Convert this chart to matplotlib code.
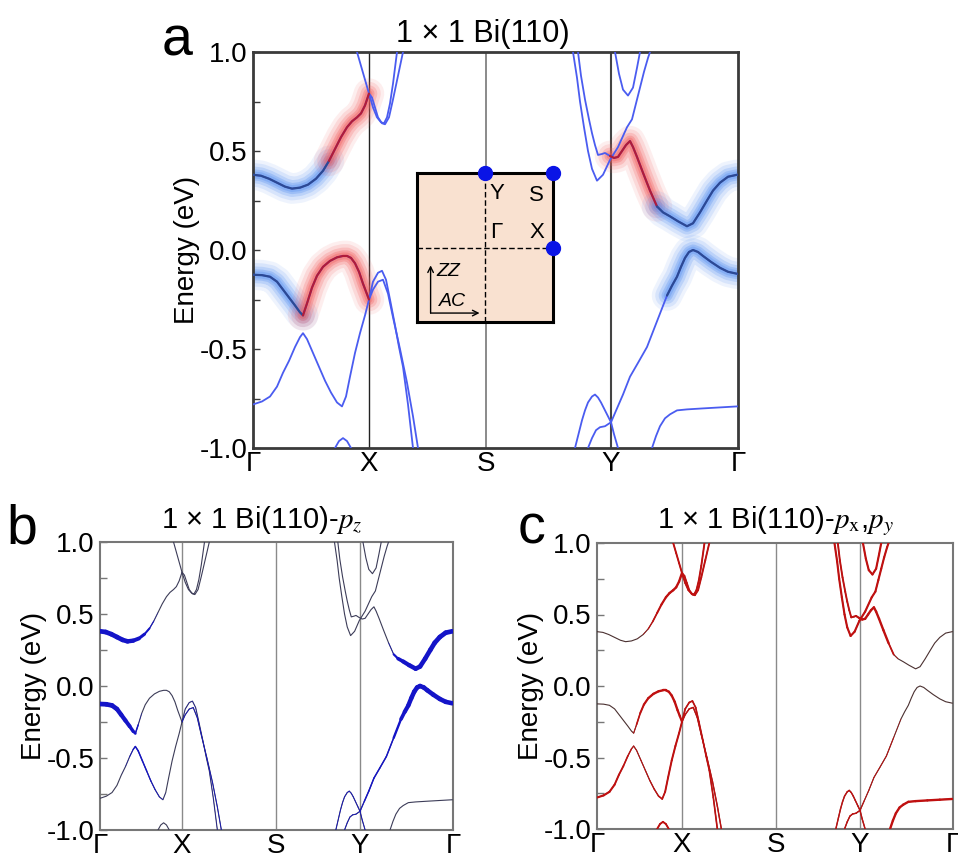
import numpy as np
import matplotlib
matplotlib.use('Agg')
import matplotlib.pyplot as plt
from matplotlib.collections import LineCollection
from matplotlib.ticker import MultipleLocator

plt.rcParams['font.family'] = ['Liberation Sans', 'DejaVu Sans']
plt.rcParams['mathtext.fontset'] = 'stix'
plt.rcParams['axes.unicode_minus'] = False

# ---------------- data ----------------
kpath_labels = ['Γ', 'X', 'S', 'Y', 'Γ']
kpath_a = [0, 116, 233, 358, 485]
kpath_b = [0, 82, 176, 260, 353]
kpath_c = [0, 85, 179, 263, 356]
energy_ticks = [-1.0, -0.5, 0.0, 0.5, 1.0]

# bands (k in panel-a path units, E in eV, pz = p_z weight)
ss_up_left_k = [0, 8, 16, 24, 32, 39, 47, 55, 63, 70, 76, 82, 88, 94, 99, 104, 108, 112, 116]
ss_up_left_E = [0.38, 0.375, 0.36, 0.34, 0.32, 0.31, 0.315, 0.33, 0.36, 0.40, 0.45, 0.51, 0.57, 0.62, 0.65, 0.67, 0.69, 0.73, 0.79]
ss_up_left_pz = [0.95, 0.95, 0.95, 0.95, 0.95, 0.92, 0.88, 0.8, 0.65, 0.5, 0.38, 0.3, 0.25, 0.22, 0.2, 0.2, 0.2, 0.2, 0.2]

ss_lo_left_k = [0, 9, 17, 24, 30, 36, 42, 47, 50, 54, 59, 64, 70, 77, 84, 90, 94, 98, 102, 106, 110, 113, 116]
ss_lo_left_E = [-0.125, -0.127, -0.135, -0.16, -0.2, -0.24, -0.28, -0.315, -0.33, -0.27, -0.19, -0.13, -0.085, -0.055, -0.037, -0.03, -0.03, -0.04, -0.067, -0.11, -0.17, -0.21, -0.25]
ss_lo_left_pz = [0.95, 0.95, 0.95, 0.93, 0.9, 0.87, 0.82, 0.72, 0.6, 0.4, 0.3, 0.25, 0.22, 0.2, 0.2, 0.2, 0.2, 0.2, 0.2, 0.2, 0.2, 0.22, 0.25]

band_c_k = [0, 9, 17, 24, 30, 36, 42, 47, 50, 54, 60, 66, 72, 78, 84, 89, 93, 97, 102, 107, 112, 116, 120, 125, 129, 133, 137, 142, 146, 150, 155, 160]
band_c_E = [-0.78, -0.765, -0.74, -0.69, -0.62, -0.56, -0.49, -0.44, -0.42, -0.45, -0.52, -0.59, -0.66, -0.72, -0.77, -0.79, -0.74, -0.64, -0.52, -0.42, -0.33, -0.25, -0.16, -0.115, -0.105, -0.15, -0.25, -0.38, -0.49, -0.59, -0.78, -1.0]
band_c_pz = [0.25, 0.25, 0.25, 0.28, 0.3, 0.33, 0.38, 0.45, 0.5, 0.5, 0.5, 0.48, 0.45, 0.42, 0.4, 0.35, 0.3, 0.28, 0.28, 0.28, 0.28, 0.3, 0.35, 0.35, 0.35, 0.35, 0.35, 0.35, 0.35, 0.35, 0.35, 0.35]

ss_lo_cont_k = [116, 120, 125, 130, 135, 140, 147, 154, 160, 165]
ss_lo_cont_E = [-0.25, -0.2, -0.16, -0.15, -0.22, -0.34, -0.5, -0.67, -0.84, -1.0]
ss_lo_cont_pz = [0.4, 0.4, 0.4, 0.4, 0.4, 0.4, 0.4, 0.4, 0.4, 0.4]

top_x_k = [104, 108, 112, 116, 120, 124, 128, 131, 134, 137, 140, 144]
top_x_E = [1.0, 0.93, 0.86, 0.79, 0.72, 0.67, 0.645, 0.64, 0.67, 0.74, 0.84, 1.0]
top_x_pz = [0.3] * 12

ss_up_cont_k = [116, 119, 122, 125, 129, 132, 136, 140, 145, 150]
ss_up_cont_E = [0.79, 0.77, 0.72, 0.67, 0.64, 0.635, 0.67, 0.76, 0.88, 1.0]
ss_up_cont_pz = [0.3] * 10

bump_k = [82, 86, 90, 94, 98]
bump_E = [-1.0, -0.965, -0.95, -0.965, -1.0]
bump_pz = [0.3] * 5

band_d_k = [320, 324, 327, 331, 335, 339, 344, 350, 357, 365, 374, 379, 383, 387, 391, 395, 397]
band_d_E = [1.0, 0.87, 0.75, 0.62, 0.5, 0.41, 0.35, 0.38, 0.455, 0.52, 0.62, 0.66, 0.74, 0.82, 0.9, 0.97, 1.0]
band_d_pz = [0.25] * 17

ss_up_right_k = [325, 328, 332, 336, 339, 342, 345, 349, 352, 357, 361, 365, 369, 373, 377, 380, 384, 390, 397, 404, 410, 417, 425, 434, 440, 447, 454, 460, 467, 475, 484]
ss_up_right_E = [1.0, 0.88, 0.76, 0.66, 0.59, 0.53, 0.48, 0.485, 0.49, 0.475, 0.465, 0.47, 0.5, 0.53, 0.55, 0.52, 0.47, 0.39, 0.30, 0.22, 0.19, 0.17, 0.145, 0.12, 0.135, 0.19, 0.25, 0.3, 0.34, 0.37, 0.38]
ss_up_right_pz = [0.3] * 9 + [0.2] * 10 + [0.45] + [0.75, 0.85, 0.9, 0.92, 0.93, 0.93, 0.94, 0.95, 0.95, 0.95, 0.95]

band_f_k = [362, 366, 370, 375, 380, 384, 387]
band_f_E = [1.0, 0.89, 0.81, 0.78, 0.82, 0.92, 1.0]
band_f_pz = [0.25] * 7

band_g_k = [335, 339, 343, 347, 352, 358, 364, 370, 377, 385, 394, 404, 414, 419, 424, 428, 432, 436, 440, 445, 450, 458, 467, 475, 484]
band_g_E = [-1.0, -0.95, -0.91, -0.895, -0.89, -0.87, -0.8, -0.73, -0.64, -0.57, -0.49, -0.36, -0.23, -0.18, -0.135, -0.085, -0.04, -0.01, 0.0, -0.01, -0.03, -0.06, -0.09, -0.11, -0.12]
band_g_pz = [0.4] * 6 + [0.5] * 6 + [0.75, 0.85, 0.9, 0.92] + [0.93] * 9

band_h_k = [322, 326, 329, 332, 335, 339, 342, 345, 348, 351, 355, 358, 361, 365]
band_h_E = [-1.0, -0.92, -0.86, -0.81, -0.77, -0.74, -0.73, -0.745, -0.77, -0.8, -0.84, -0.87, -0.93, -1.0]
band_h_pz = [0.4] * 14

band_i_k = [399, 403, 407, 412, 417, 424, 434, 450, 467, 484]
band_i_E = [-1.0, -0.94, -0.89, -0.85, -0.83, -0.81, -0.805, -0.80, -0.795, -0.79]
band_i_pz = [0.12] * 10

bands = {
    'ss_up_left': (ss_up_left_k, ss_up_left_E, ss_up_left_pz),
    'ss_lo_left': (ss_lo_left_k, ss_lo_left_E, ss_lo_left_pz),
    'band_c': (band_c_k, band_c_E, band_c_pz),
    'ss_lo_cont': (ss_lo_cont_k, ss_lo_cont_E, ss_lo_cont_pz),
    'top_x': (top_x_k, top_x_E, top_x_pz),
    'ss_up_cont': (ss_up_cont_k, ss_up_cont_E, ss_up_cont_pz),
    'bump': (bump_k, bump_E, bump_pz),
    'band_d': (band_d_k, band_d_E, band_d_pz),
    'ss_up_right': (ss_up_right_k, ss_up_right_E, ss_up_right_pz),
    'band_f': (band_f_k, band_f_E, band_f_pz),
    'band_g': (band_g_k, band_g_E, band_g_pz),
    'band_h': (band_h_k, band_h_E, band_h_pz),
    'band_i': (band_i_k, band_i_E, band_i_pz),
}

# highlighted (glowing) surface-state segments in panel a: band, k from, k to, orbital
glow_segments = [
    ('ss_up_left', 0, 76, 'pz'),
    ('ss_up_left', 76, 116, 'pxpy'),
    ('ss_lo_left', 0, 50, 'pz'),
    ('ss_lo_left', 50, 116, 'pxpy'),
    ('ss_up_right', 357, 404, 'pxpy'),
    ('ss_up_right', 404, 484, 'pz'),
    ('band_g', 414, 484, 'pz'),
]

# ---------------- figure ----------------
W, H = 958, 859
fig = plt.figure(figsize=(W / 100, H / 100), dpi=100)


def fax(l, t, r, b):
    return [l / W, 1 - b / H, (r - l) / W, (b - t) / H]


TICK_FS = 20


def style_axes(ax, kpath, frame_color, frame_lw):
    ax.set_ylim(-1.0, 1.0)
    ax.set_xlim(kpath[0], kpath[-1])
    ax.set_yticks(energy_ticks)
    ax.set_yticklabels(['%.1f' % v for v in energy_ticks])
    ax.yaxis.set_minor_locator(MultipleLocator(0.25))
    ax.set_xticks(kpath)
    ax.set_xticklabels(kpath_labels)
    ax.tick_params(axis='y', which='both', direction='in', length=5, width=1,
                   labelsize=TICK_FS, pad=4, color=frame_color)
    ax.tick_params(axis='x', length=0, labelsize=TICK_FS, pad=2)
    for s in ax.spines.values():
        s.set_color(frame_color)
        s.set_linewidth(frame_lw)
    ax.set_ylabel('Energy (eV)', fontsize=TICK_FS, labelpad=0)


def remap(k, kpath):
    return np.interp(np.asarray(k, float), kpath_a, kpath)


# ---- panel a ----
axa = fig.add_axes(fax(253, 52, 738, 448))
style_axes(axa, kpath_a, '#3a3a3a', 2.0)
for kk, col, lw in zip(kpath_a[1:4], ['#222222', '#777777', '#444444'], [1.0, 1.2, 1.5]):
    axa.axvline(kk, color=col, lw=lw, zorder=1)

for name, (k, E, pz) in bands.items():
    axa.plot(k, E, color='#4a5cf0', lw=1.3, zorder=3)

glow_col = {'pz': '#5a92f2', 'pxpy': '#f25e5e'}
core_col = {'pz': '#2c4a94', 'pxpy': '#b01c3a'}
for name, k0, k1, orb in glow_segments:
    k, E, _ = bands[name]
    k = np.asarray(k, float)
    E = np.asarray(E, float)
    m = (k >= k0) & (k <= k1)
    for lw, al in [(22, 0.10), (17, 0.15), (12, 0.22), (8, 0.3), (5, 0.35)]:
        axa.plot(k[m], E[m], color=glow_col[orb], lw=lw, alpha=al,
                 solid_capstyle='round', solid_joinstyle='round', zorder=2)
    axa.plot(k[m], E[m], color=core_col[orb], lw=1.6, zorder=4,
             solid_capstyle='round')

fig.text(162 / W, 1 - 56 / H, 'a', fontsize=40, ha='left', va='baseline')
fig.text(483 / W, 1 - 42 / H, '1 × 1 Bi(110)', fontsize=22, ha='center', va='baseline')

# inset Brillouin zone
axi = fig.add_axes(fax(417, 173, 553, 322))
axi.set_xlim(0, 1)
axi.set_ylim(0, 1)
axi.set_facecolor('#f9e1d0')
axi.set_xticks([])
axi.set_yticks([])
for s in axi.spines.values():
    s.set_linewidth(2.2)
    s.set_color('black')
axi.plot([0, 1], [0.5, 0.5], ls=(0, (4, 2)), color='black', lw=1)
axi.plot([0.5, 0.5], [0, 1], ls=(0, (4, 2)), color='black', lw=1)
axi.plot([0.5, 1, 1], [1, 1, 0.5], 'o', color='#0a14e6', ms=10, clip_on=False, zorder=5)
ins_fs = 16
axi.text(0.53, 0.86, 'Y', fontsize=ins_fs, ha='left', va='center')
axi.text(0.93, 0.85, 'S', fontsize=ins_fs, ha='right', va='center')
axi.text(0.54, 0.60, 'Γ', fontsize=ins_fs, ha='left', va='center')
axi.text(0.94, 0.60, 'X', fontsize=ins_fs, ha='right', va='center')
axi.annotate('', xy=(0.1, 0.38), xytext=(0.1, 0.06),
             arrowprops=dict(arrowstyle='->', lw=1.0, color='black', shrinkA=0, shrinkB=0))
axi.annotate('', xy=(0.46, 0.06), xytext=(0.1, 0.06),
             arrowprops=dict(arrowstyle='->', lw=1.0, color='black', shrinkA=0, shrinkB=0))
axi.text(0.14, 0.34, 'ZZ', fontsize=14, style='italic', ha='left', va='center')
axi.text(0.16, 0.14, 'AC', fontsize=14, style='italic', ha='left', va='center')


# ---- panels b, c ----
def weighted(ax, k, E, w, color, scale):
    pts = np.column_stack([k, E])
    segs = np.stack([pts[:-1], pts[1:]], axis=1)
    ww = 0.5 * (w[:-1] + w[1:])
    lc = LineCollection(segs, linewidths=ww * scale, colors=color,
                        capstyle='round', joinstyle='round', zorder=4)
    ax.add_collection(lc)


def orbital_panel(rect, kpath, base_col, hi_col, which, letter, letter_xy, title, title_xy):
    ax = fig.add_axes(rect)
    style_axes(ax, kpath, '#777777', 1.5)
    for kk in kpath[1:4]:
        ax.axvline(kk, color='#8a8a8a', lw=1.0, zorder=1)
    for name, (k, E, pz) in bands.items():
        kk = remap(k, kpath)
        EE = np.asarray(E, float)
        pz = np.asarray(pz, float)
        ax.plot(kk, EE, color=base_col, lw=0.8, zorder=3)
        if which == 'pz':
            w = np.clip((pz - 0.3) / 0.65, 0, 1)
            weighted(ax, kk, EE, w, hi_col, 3.4)
        else:
            w = np.clip(((1 - pz) - 0.3) / 0.5, 0, 1)
            weighted(ax, kk, EE, w, hi_col, 1.7)
    fig.text(letter_xy[0] / W, 1 - letter_xy[1] / H, letter, fontsize=40,
             ha='left', va='baseline')
    fig.text(title_xy[0] / W, 1 - title_xy[1] / H, title, fontsize=21,
             ha='center', va='baseline')
    return ax


axb = orbital_panel(fax(100, 542, 453, 830), kpath_b, '#3c3c58', '#1414c8', 'pz',
                    'b', (6, 544), '1 × 1 Bi(110)-$p_z$', (262, 528))
axc = orbital_panel(fax(597, 543, 953, 829), kpath_c, '#4a3030', '#c01010', 'pxpy',
                    'c', (518, 544), '1 × 1 Bi(110)-$p_{\\mathrm{x}}$,$p_y$', (775, 528))

fig.savefig('out.png', dpi=100)
